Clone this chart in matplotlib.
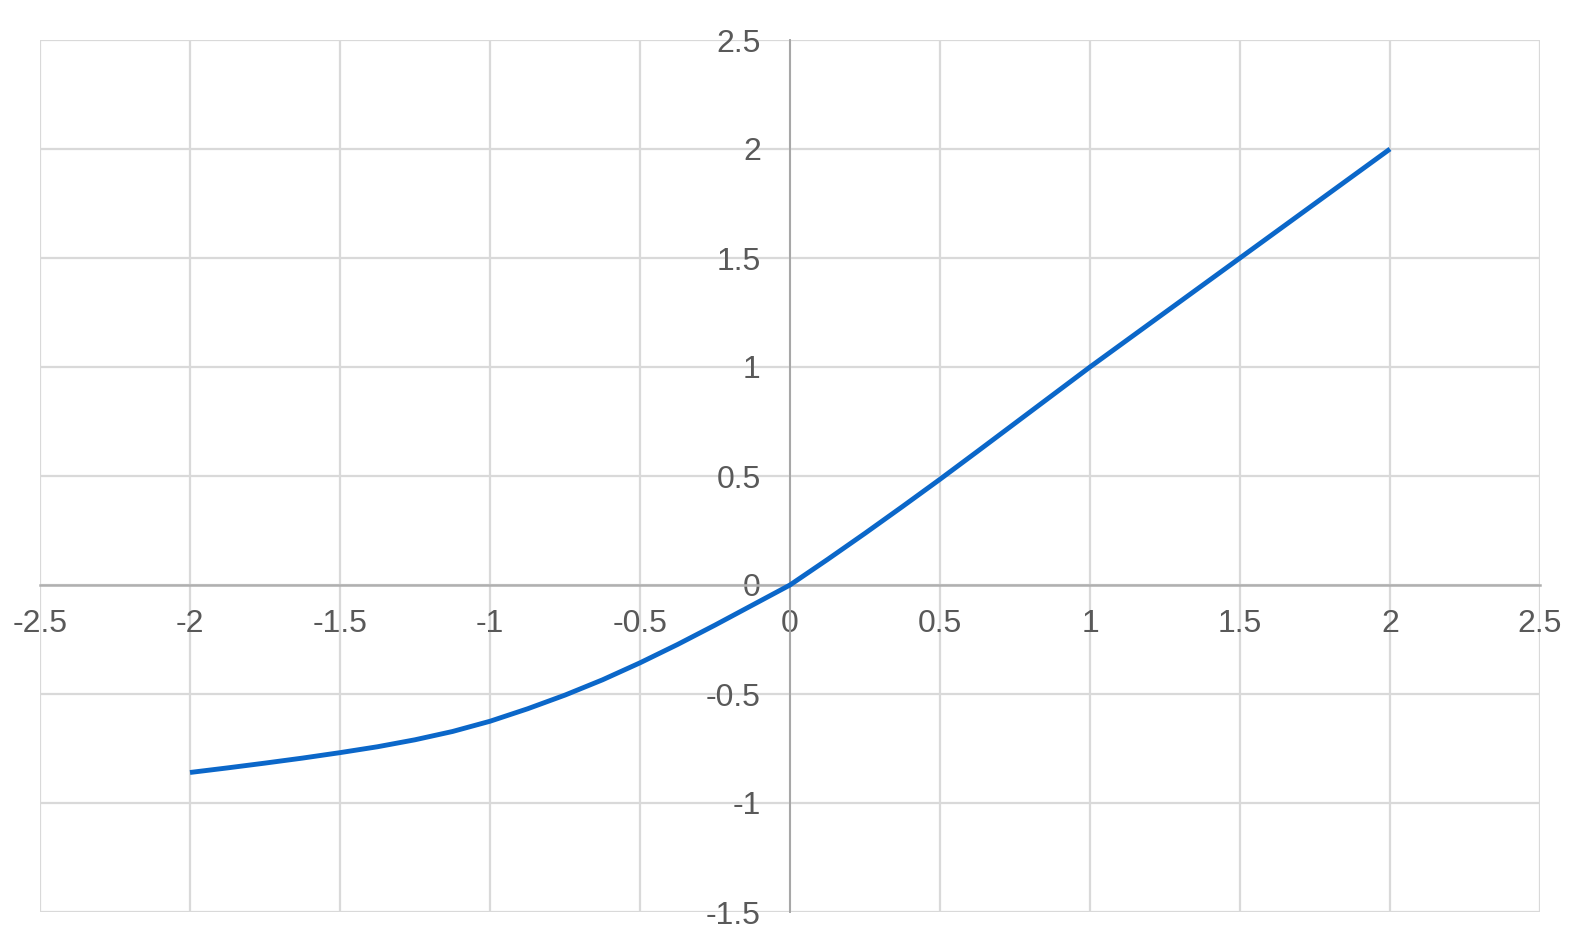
import matplotlib
matplotlib.use("Agg")
import matplotlib.pyplot as plt
import numpy as np

# curve
x_vals = [-2.0, -1.875, -1.75, -1.625, -1.5, -1.375, -1.25, -1.125, -1.0,
          -0.875, -0.75, -0.625, -0.5, -0.375, -0.25, -0.125, 0.0,
          0.125, 0.25, 0.375, 0.5, 0.625, 0.75, 0.875, 1.0,
          1.25, 1.5, 1.75, 2.0]
y_vals = [-0.86, -0.839, -0.817, -0.794, -0.769, -0.742, -0.71, -0.672, -0.625,
          -0.568, -0.505, -0.435, -0.357, -0.273, -0.184, -0.092, 0.0,
          0.117, 0.237, 0.36, 0.485, 0.613, 0.742, 0.871, 1.0,
          1.25, 1.5, 1.75, 2.0]

x_ticks = [-2.5, -2, -1.5, -1, -0.5, 0, 0.5, 1, 1.5, 2, 2.5]
y_ticks = [-1.5, -1, -0.5, 0, 0.5, 1, 1.5, 2, 2.5]


def fmt(v):
    return f"{v:g}"


def main():
    plt.rcParams['font.family'] = ['Liberation Sans', 'DejaVu Sans']

    fig = plt.figure(figsize=(15.77, 9.49), dpi=100)
    ax = fig.add_axes([40 / 1577, 37 / 949, 1500 / 1577, 872 / 949])

    ax.plot(x_vals, y_vals, color='#0b67c9', linewidth=3.5,
            solid_capstyle='butt', solid_joinstyle='round', zorder=5)

    ax.set_xlim(-2.5, 2.5)
    ax.set_ylim(-1.5, 2.5)
    ax.set_xticks(x_ticks)
    ax.set_yticks(y_ticks)
    ax.set_xticklabels([fmt(v) for v in x_ticks])
    ax.set_yticklabels([fmt(v) for v in y_ticks])

    ax.grid(True, color='#d9d9d9', linewidth=1.6, zorder=0)
    ax.set_axisbelow(True)

    for side in ['top', 'right']:
        ax.spines[side].set_visible(False)
    ax.spines['left'].set_position(('data', 0))
    ax.spines['bottom'].set_position(('data', 0))
    ax.spines['left'].set_color('#a6a6a6')
    ax.spines['left'].set_linewidth(1.4)
    ax.spines['bottom'].set_color('#b0b0b0')
    ax.spines['bottom'].set_linewidth(1.8)

    ax.tick_params(axis='both', length=0, labelsize=23, labelcolor='#595959')
    ax.tick_params(axis='x', pad=17)
    ax.tick_params(axis='y', pad=21)

    fig.savefig('out.png', dpi=100, facecolor='white')
    plt.close(fig)


if __name__ == "__main__":
    main()
